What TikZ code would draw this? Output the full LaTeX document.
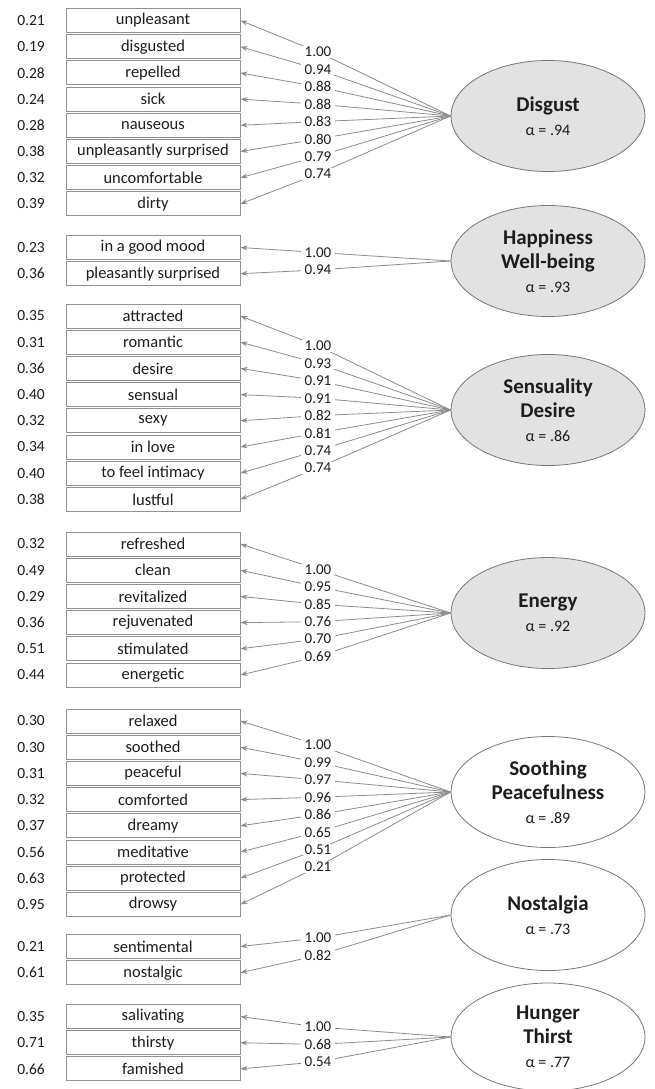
\documentclass[tikz,border=0pt]{standalone}
\usepackage{fontspec}
\setmainfont{Carlito}
\usetikzlibrary{shapes.geometric,arrows.meta}
\definecolor{linegray}{RGB}{140,140,140}
\definecolor{boxgray}{RGB}{145,145,145}
\definecolor{ellgray}{RGB}{120,120,120}
\definecolor{ellfill}{RGB}{226,226,226}
\definecolor{txt}{RGB}{30,28,28}
\tikzset{
  item/.style={draw=boxgray, line width=0.9pt, fill=white, minimum width=174pt,
    minimum height=24pt, inner sep=0pt, font=\fontsize{16.5}{19}\selectfont, text=txt},
  err/.style={inner sep=0pt, font=\fontsize{15.5}{18}\selectfont, text=txt},
  load/.style={fill=white, inner xsep=3.5pt, inner ysep=1pt, text depth=0pt,
    font=\fontsize{15}{17}\selectfont, text=txt},
  factor/.style={ellipse, draw=ellgray, line width=0.8pt, minimum width=194pt,
    minimum height=111pt, inner sep=0pt, align=center, text=txt,
    font=\fontsize{21}{24}\selectfont\bfseries},
  grayfactor/.style={factor, fill=ellfill},
  whitefactor/.style={factor, fill=white},
  conn/.style={draw=linegray, line width=0.8pt},
  arr/.style={-{Stealth[length=7pt,width=5pt]}}
}
\newcommand\alp[1]{{\fontsize{16}{23}\selectfont\mdseries α = #1}}
\newcommand\mkgroup[5]{%
  \foreach \w/\e/\l [count=\i] in {#5} {
    \node[item] (#1\i) at (153,{#2+26.2*(\i-1)}) {\w};
    \node[err] (#1e\i) at (31,{#2+26.2*(\i-1)}) {\e};
    \coordinate (#1c\i) at (318,{#3+17.4*(\i-1)});
    \draw[conn,arr] (#1c\i) -- (#1\i.east);
    \draw[conn] (#1c\i) -- (#4.west);
  }
  \foreach \w/\e/\l [count=\i] in {#5} {
    \node[load] (#1l\i) at (#1c\i) {\l};
  }%
}
\begin{document}
\begin{tikzpicture}[x=1pt,y=-1pt]
\useasboundingbox (0,0) rectangle (654,1089);
\fill[white] (0,0) rectangle (654,1089);

\node[grayfactor] (F1) at (548,116) {Disgust\\\alp{.94}};
\node[grayfactor] (F2) at (548,261) {Happiness\\Well-being\\\alp{.93}};
\node[grayfactor] (F3) at (548,410) {Sensuality\\Desire\\\alp{.86}};
\node[grayfactor] (F4) at (548,613) {Energy\\\alp{.92}};
\node[whitefactor] (F5) at (548,792) {Soothing\\Peacefulness\\\alp{.89}};
\node[whitefactor] (F6) at (548,915) {Nostalgia\\\alp{.73}};
\node[whitefactor, minimum height=108pt] (F7) at (548,1037) {Hunger\\Thirst\\\alp{.77}};

\mkgroup{D}{20.5}{52}{F1}{unpleasant/0.21/1.00, disgusted/0.19/0.94, repelled/0.28/0.88,
  sick/0.24/0.88, nauseous/0.28/0.83, unpleasantly surprised/0.38/0.80,
  uncomfortable/0.32/0.79, dirty/0.39/0.74}
\mkgroup{H}{247.5}{252.5}{F2}{in a good mood/0.23/1.00, pleasantly surprised/0.36/0.94}
\mkgroup{S}{316}{346}{F3}{attracted/0.35/1.00, romantic/0.31/0.93, desire/0.36/0.91,
  sensual/0.40/0.91, sexy/0.32/0.82, in love/0.34/0.81, to feel intimacy/0.40/0.74,
  lustful/0.38/0.74}
\mkgroup{E}{544}{569.5}{F4}{refreshed/0.32/1.00, clean/0.49/0.95, revitalized/0.29/0.85,
  rejuvenated/0.36/0.76, stimulated/0.51/0.70, energetic/0.44/0.69}
\mkgroup{P}{721}{745}{F5}{relaxed/0.30/1.00, soothed/0.30/0.99, peaceful/0.31/0.97,
  comforted/0.32/0.96, dreamy/0.37/0.86, meditative/0.56/0.65, protected/0.63/0.51,
  drowsy/0.95/0.21}
\mkgroup{N}{946.5}{938}{F6}{sentimental/0.21/1.00, nostalgic/0.61/0.82}
\mkgroup{T}{1016.5}{1027}{F7}{salivating/0.35/1.00, thirsty/0.71/0.68, famished/0.66/0.54}
\end{tikzpicture}
\end{document}
